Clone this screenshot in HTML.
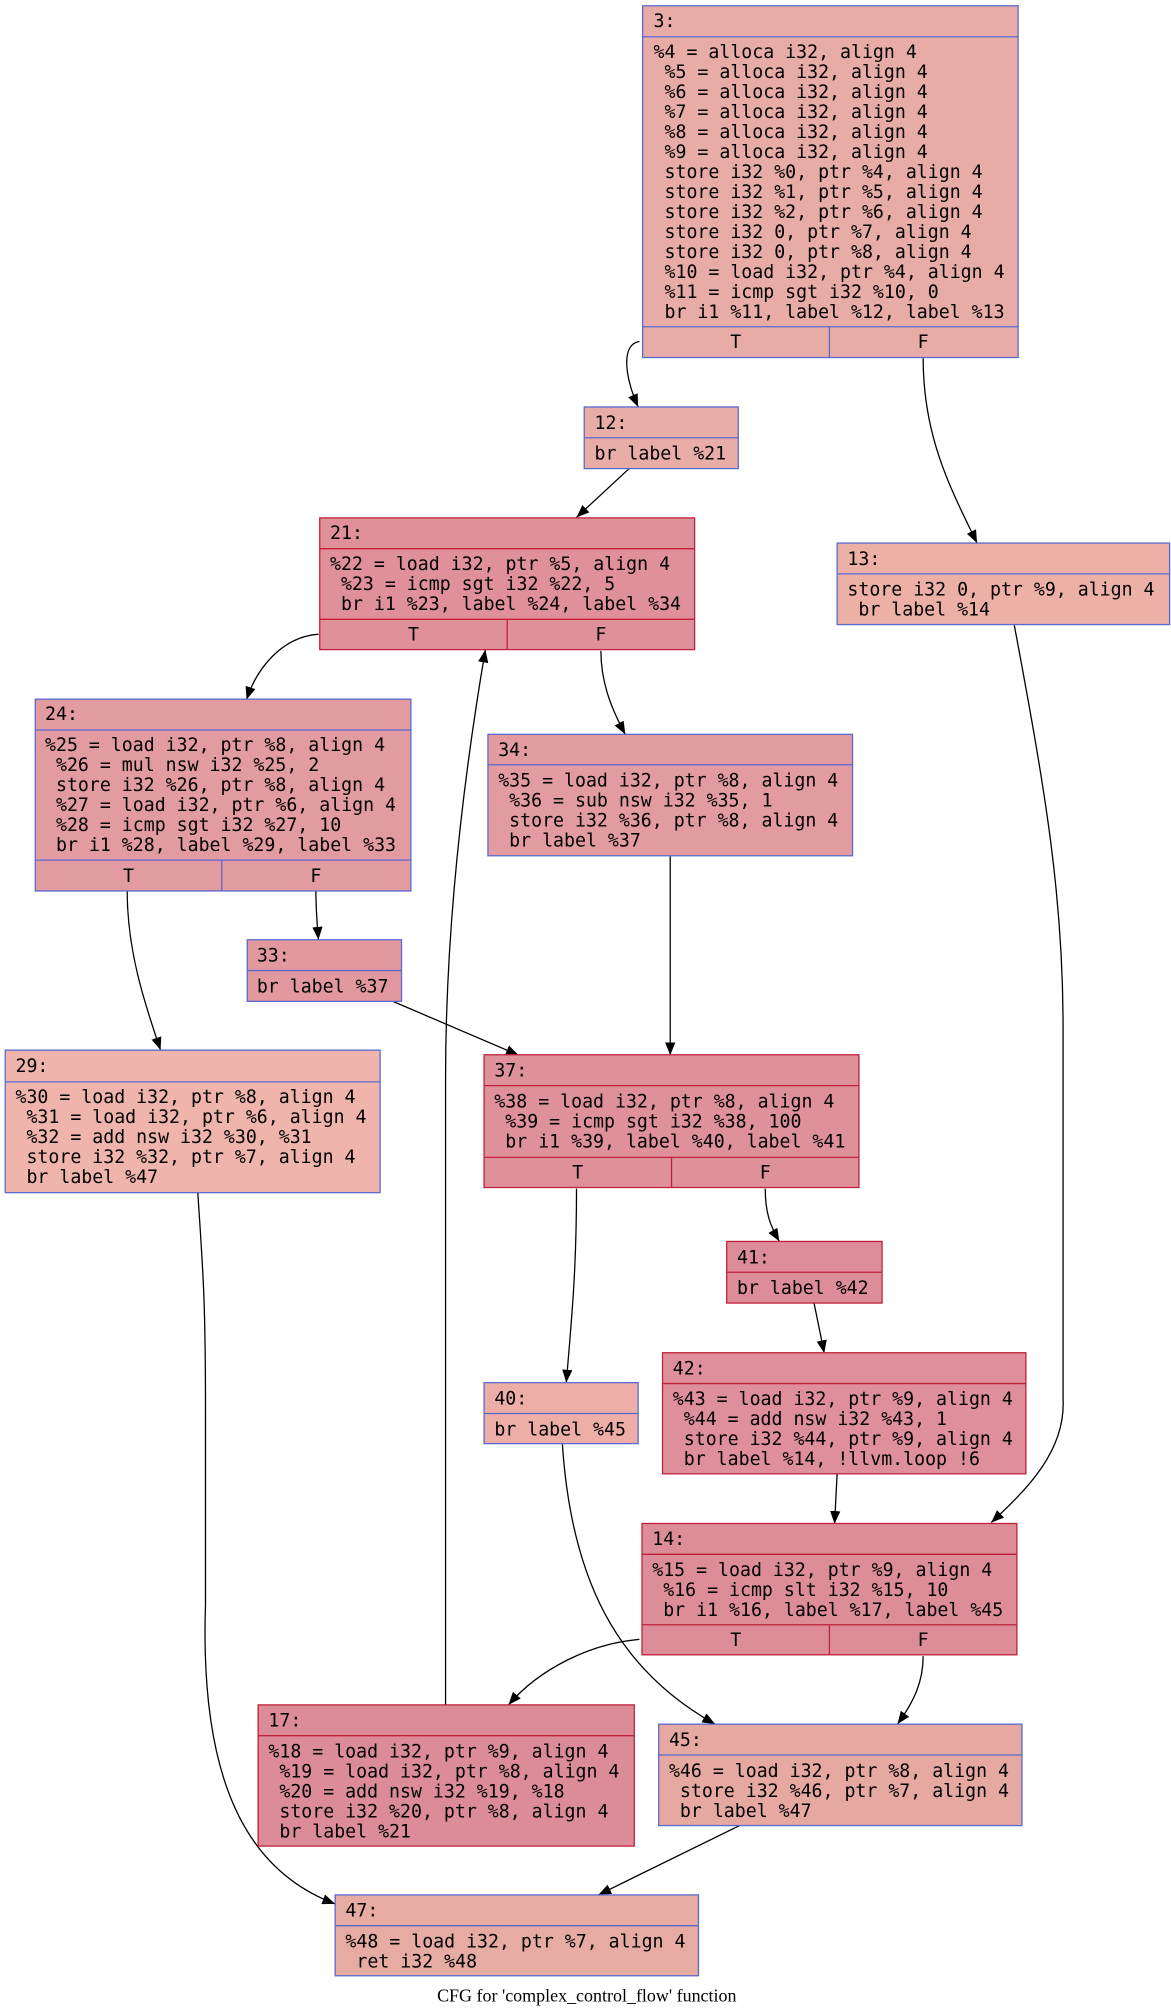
<!DOCTYPE html>
<html><head><meta charset="utf-8"><style>
html,body{margin:0;padding:0;background:#fff;}
svg{display:block;}
.t{font-family:"DejaVu Sans Mono","Liberation Mono",monospace;font-size:14.2px;fill:#000;white-space:pre;}
.c{font-family:"Liberation Serif",serif;font-size:14px;fill:#000;}
.e{fill:none;stroke:#000;stroke-width:1;}
</style></head><body>
<svg width="1171" height="2013" viewBox="0 0 912 1568" xmlns="http://www.w3.org/2000/svg">
<defs><marker id="a" viewBox="0 0 10 8" refX="10" refY="4" markerWidth="10" markerHeight="8" markerUnits="userSpaceOnUse" orient="auto"><path d="M0,0 L10,4 L0,8 z" fill="#000"/></marker></defs>

<!-- edges -->
<g class="e" marker-end="url(#a)">
<path d="M498,266 C484,268 486,292 497,317"/>
<path d="M719,279 C719,340 740,380 761,423"/>
<path d="M490,365 L449,403"/>
<path d="M248,494 C220,496 200,520 192,545"/>
<path d="M468,507 C468,530 475,550 487,572"/>
<path d="M347,1328 L347,840 C347,720 362,600 378,506"/>
<path d="M790,487 C815,620 828,700 828,800 L828,1090 C830,1130 800,1160 772,1186"/>
<path d="M99,694 C99,740 112,780 125,818"/>
<path d="M246,694 C246,710 247,720 248,732"/>
<path d="M306,780 L404,822"/>
<path d="M522,667 L522,822"/>
<path d="M154,929 C158,990 160,1010 160,1100 L160,1250 C155,1400 200,1460 261,1483"/>
<path d="M449,926 C449,990 445,1030 441,1077"/>
<path d="M596,926 C596,945 600,955 607,967"/>
<path d="M634,1015 L642,1054"/>
<path d="M652,1148 L650,1187"/>
<path d="M438,1125 C445,1230 480,1300 557,1343"/>
<path d="M498,1277 C460,1280 420,1300 396,1328"/>
<path d="M719,1290 C719,1310 712,1325 699,1343"/>
<path d="M576,1422 L466,1476"/>
</g>

<!-- node 3 -->
<g>
<rect x="500.5" y="4.5" width="292.5" height="274" fill="#e8aca6" stroke="#5a69d0"/>
<line x1="500.5" y1="28.6" x2="793" y2="28.6" stroke="#5a69d0"/>
<line x1="500.5" y1="254.5" x2="793" y2="254.5" stroke="#5a69d0"/>
<line x1="646" y1="254.5" x2="646" y2="278.5" stroke="#5a69d0"/>
<text class="t" x="509" y="21">3:</text>
<text class="t" x="509" y="45">%4 = alloca i32, align 4</text>
<text class="t" x="509" y="60.6"> %5 = alloca i32, align 4</text>
<text class="t" x="509" y="76.2"> %6 = alloca i32, align 4</text>
<text class="t" x="509" y="91.8"> %7 = alloca i32, align 4</text>
<text class="t" x="509" y="107.4"> %8 = alloca i32, align 4</text>
<text class="t" x="509" y="123"> %9 = alloca i32, align 4</text>
<text class="t" x="509" y="138.6"> store i32 %0, ptr %4, align 4</text>
<text class="t" x="509" y="154.2"> store i32 %1, ptr %5, align 4</text>
<text class="t" x="509" y="169.8"> store i32 %2, ptr %6, align 4</text>
<text class="t" x="509" y="185.4"> store i32 0, ptr %7, align 4</text>
<text class="t" x="509" y="201"> store i32 0, ptr %8, align 4</text>
<text class="t" x="509" y="216.6"> %10 = load i32, ptr %4, align 4</text>
<text class="t" x="509" y="232.2"> %11 = icmp sgt i32 %10, 0</text>
<text class="t" x="509" y="247.8"> br i1 %11, label %12, label %13</text>
<text class="t" x="573" y="271" text-anchor="middle">T</text>
<text class="t" x="719" y="271" text-anchor="middle">F</text>
</g>

<!-- node 12 -->
<rect x="455" y="317" width="120" height="48" fill="#e9ada8" stroke="#5a69d0"/>
<line x1="455" y1="341" x2="575" y2="341" stroke="#5a69d0"/>
<text class="t" x="463" y="334">12:</text>
<text class="t" x="463" y="358">br label %21</text>

<!-- node 21 -->
<rect x="249" y="403.4" width="292" height="102.6" fill="#df909b" stroke="#c0203a"/>
<line x1="249" y1="427.4" x2="541" y2="427.4" stroke="#c0203a"/>
<line x1="249" y1="482.4" x2="541" y2="482.4" stroke="#c0203a"/>
<line x1="395" y1="482.4" x2="395" y2="506" stroke="#c0203a"/>
<text class="t" x="257" y="420">21:</text>
<text class="t" x="257" y="444">%22 = load i32, ptr %5, align 4</text>
<text class="t" x="257" y="459.6"> %23 = icmp sgt i32 %22, 5</text>
<text class="t" x="257" y="475.2"> br i1 %23, label %24, label %34</text>
<text class="t" x="322" y="499" text-anchor="middle">T</text>
<text class="t" x="468" y="499" text-anchor="middle">F</text>

<!-- node 13 -->
<rect x="652" y="423" width="259" height="63.5" fill="#edb0a6" stroke="#5a69d0"/>
<line x1="652" y1="447" x2="911" y2="447" stroke="#5a69d0"/>
<text class="t" x="660" y="440">13:</text>
<text class="t" x="660" y="464">store i32 0, ptr %9, align 4</text>
<text class="t" x="660" y="479.6"> br label %14</text>

<!-- node 24 -->
<rect x="27.4" y="544.6" width="292.6" height="149.4" fill="#e29ba0" stroke="#5a69d0"/>
<line x1="27.4" y1="568.6" x2="320" y2="568.6" stroke="#5a69d0"/>
<line x1="27.4" y1="670" x2="320" y2="670" stroke="#5a69d0"/>
<line x1="172.7" y1="670" x2="172.7" y2="694" stroke="#5a69d0"/>
<text class="t" x="35" y="561">24:</text>
<text class="t" x="35" y="585">%25 = load i32, ptr %8, align 4</text>
<text class="t" x="35" y="600.6"> %26 = mul nsw i32 %25, 2</text>
<text class="t" x="35" y="616.2"> store i32 %26, ptr %8, align 4</text>
<text class="t" x="35" y="631.8"> %27 = load i32, ptr %6, align 4</text>
<text class="t" x="35" y="647.4"> %28 = icmp sgt i32 %27, 10</text>
<text class="t" x="35" y="663"> br i1 %28, label %29, label %33</text>
<text class="t" x="100" y="687" text-anchor="middle">T</text>
<text class="t" x="246" y="687" text-anchor="middle">F</text>

<!-- node 34 -->
<rect x="380" y="572" width="284" height="94.6" fill="#e29ca1" stroke="#5a69d0"/>
<line x1="380" y1="595.7" x2="664" y2="595.7" stroke="#5a69d0"/>
<text class="t" x="388" y="589">34:</text>
<text class="t" x="388" y="612.5">%35 = load i32, ptr %8, align 4</text>
<text class="t" x="388" y="628.1"> %36 = sub nsw i32 %35, 1</text>
<text class="t" x="388" y="643.7"> store i32 %36, ptr %8, align 4</text>
<text class="t" x="388" y="659.3"> br label %37</text>

<!-- node 33 -->
<rect x="192.5" y="732" width="120.2" height="48" fill="#e1989f" stroke="#5a69d0"/>
<line x1="192.5" y1="756" x2="312.7" y2="756" stroke="#5a69d0"/>
<text class="t" x="200" y="749">33:</text>
<text class="t" x="200" y="773">br label %37</text>

<!-- node 29 -->
<rect x="4" y="818" width="292" height="111" fill="#efb5ac" stroke="#5a69d0"/>
<line x1="4" y1="842.7" x2="296" y2="842.7" stroke="#5a69d0"/>
<text class="t" x="12" y="835">29:</text>
<text class="t" x="12" y="859">%30 = load i32, ptr %8, align 4</text>
<text class="t" x="12" y="874.6"> %31 = load i32, ptr %6, align 4</text>
<text class="t" x="12" y="890.2"> %32 = add nsw i32 %30, %31</text>
<text class="t" x="12" y="905.8"> store i32 %32, ptr %7, align 4</text>
<text class="t" x="12" y="921.4"> br label %47</text>

<!-- node 37 -->
<rect x="377" y="821.6" width="292" height="103.4" fill="#de909b" stroke="#c0203a"/>
<line x1="377" y1="845.6" x2="669" y2="845.6" stroke="#c0203a"/>
<line x1="377" y1="901.5" x2="669" y2="901.5" stroke="#c0203a"/>
<line x1="523" y1="901.5" x2="523" y2="925" stroke="#c0203a"/>
<text class="t" x="385" y="838.5">37:</text>
<text class="t" x="385" y="862.5">%38 = load i32, ptr %8, align 4</text>
<text class="t" x="385" y="878.1"> %39 = icmp sgt i32 %38, 100</text>
<text class="t" x="385" y="893.7"> br i1 %39, label %40, label %41</text>
<text class="t" x="450" y="918" text-anchor="middle">T</text>
<text class="t" x="596" y="918" text-anchor="middle">F</text>

<!-- node 41 -->
<rect x="566" y="967" width="121" height="48" fill="#dd8d99" stroke="#c0203a"/>
<line x1="566" y1="991" x2="687" y2="991" stroke="#c0203a"/>
<text class="t" x="574" y="984">41:</text>
<text class="t" x="574" y="1008">br label %42</text>

<!-- node 40 -->
<rect x="377" y="1077" width="120" height="47.5" fill="#ecaea7" stroke="#5a69d0"/>
<line x1="377" y1="1101" x2="497" y2="1101" stroke="#5a69d0"/>
<text class="t" x="385" y="1094">40:</text>
<text class="t" x="385" y="1118">br label %45</text>

<!-- node 42 -->
<rect x="516" y="1053.7" width="283" height="94.3" fill="#df8f9b" stroke="#c0203a"/>
<line x1="516" y1="1077.7" x2="799" y2="1077.7" stroke="#c0203a"/>
<text class="t" x="524" y="1070.5">42:</text>
<text class="t" x="524" y="1094.5">%43 = load i32, ptr %9, align 4</text>
<text class="t" x="524" y="1110.1"> %44 = add nsw i32 %43, 1</text>
<text class="t" x="524" y="1125.7"> store i32 %44, ptr %9, align 4</text>
<text class="t" x="524" y="1141.3"> br label %14, !llvm.loop !6</text>

<!-- node 14 -->
<rect x="500" y="1186.7" width="292" height="102.3" fill="#dd8d98" stroke="#c0203a"/>
<line x1="500" y1="1210.7" x2="792" y2="1210.7" stroke="#c0203a"/>
<line x1="500" y1="1265.6" x2="792" y2="1265.6" stroke="#c0203a"/>
<line x1="646" y1="1265.6" x2="646" y2="1289" stroke="#c0203a"/>
<text class="t" x="508" y="1203.5">14:</text>
<text class="t" x="508" y="1227.5">%15 = load i32, ptr %9, align 4</text>
<text class="t" x="508" y="1243.1"> %16 = icmp slt i32 %15, 10</text>
<text class="t" x="508" y="1258.7"> br i1 %16, label %17, label %45</text>
<text class="t" x="573" y="1282" text-anchor="middle">T</text>
<text class="t" x="719" y="1282" text-anchor="middle">F</text>

<!-- node 17 -->
<rect x="201" y="1328" width="293" height="110" fill="#dc8c98" stroke="#c0203a"/>
<line x1="201" y1="1352" x2="494" y2="1352" stroke="#c0203a"/>
<text class="t" x="209" y="1345">17:</text>
<text class="t" x="209" y="1369">%18 = load i32, ptr %9, align 4</text>
<text class="t" x="209" y="1384.6"> %19 = load i32, ptr %8, align 4</text>
<text class="t" x="209" y="1400.2"> %20 = add nsw i32 %19, %18</text>
<text class="t" x="209" y="1415.8"> store i32 %20, ptr %8, align 4</text>
<text class="t" x="209" y="1431.4"> br label %21</text>

<!-- node 45 -->
<rect x="513" y="1343" width="283" height="79" fill="#e6a9a2" stroke="#5a69d0"/>
<line x1="513" y1="1367" x2="796" y2="1367" stroke="#5a69d0"/>
<text class="t" x="521" y="1360">45:</text>
<text class="t" x="521" y="1384">%46 = load i32, ptr %8, align 4</text>
<text class="t" x="521" y="1399.6"> store i32 %46, ptr %7, align 4</text>
<text class="t" x="521" y="1415.2"> br label %47</text>

<!-- node 47 -->
<rect x="261" y="1476" width="283" height="63" fill="#e6aba3" stroke="#5a69d0"/>
<line x1="261" y1="1500" x2="544" y2="1500" stroke="#5a69d0"/>
<text class="t" x="269" y="1493">47:</text>
<text class="t" x="269" y="1517">%48 = load i32, ptr %7, align 4</text>
<text class="t" x="269" y="1532.6"> ret i32 %48</text>

<text class="c" x="457" y="1559" text-anchor="middle">CFG for 'complex_control_flow' function</text>
</svg>
</body></html>
